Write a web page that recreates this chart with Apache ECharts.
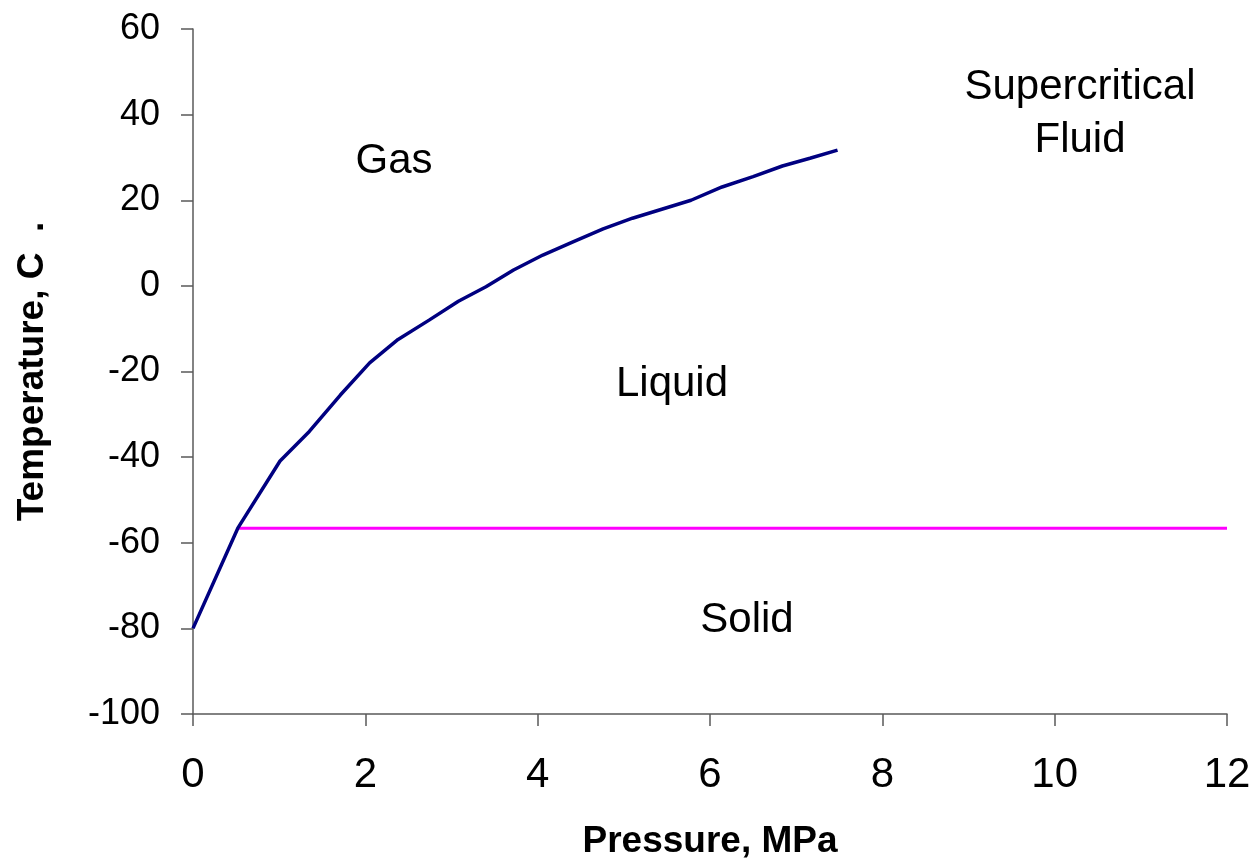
<!DOCTYPE html>
<html>
<head>
<meta charset="utf-8">
<script src="https://cdn.jsdelivr.net/npm/echarts@6/dist/echarts.min.js"></script>
<style>
  html, body { margin: 0; padding: 0; background: #fff; }
  #chart { width: 1251px; height: 859px; }
</style>
</head>
<body>
<div id="chart"></div>
<script>
// vapour pressure curve (gas / liquid boundary)
const pressure = [0, 0.52, 1.01, 1.35, 1.71, 2.05, 2.38, 2.74, 3.08, 3.4, 3.72, 4.06, 4.41, 4.76, 5.1, 5.44, 5.78, 6.14, 6.5, 6.84, 7.16, 7.48];
const temperature = [-80, -56.6, -40.9, -34, -25.5, -18, -12.5, -8, -3.6, -0.2, 3.7, 7.2, 10.3, 13.3, 15.8, 17.9, 20, 23.1, 25.5, 28, 29.8, 31.7];
// solid / liquid boundary
const meltP = [0.52, 12];
const meltT = [-56.6, -56.6];

const font = "Liberation Sans, Arial, sans-serif";
const axisColor = "#5a5a5a";

const chart = echarts.init(document.getElementById("chart"));

function note(text, x, y) {
  return {
    type: "text", x: x, y: y,
    style: { text: text, fontFamily: font, fontSize: 42, fill: "#000", align: "center", verticalAlign: "middle" }
  };
}

const option = {
  animation: false,
  backgroundColor: "#fff",
  grid: { left: 193, right: 24, top: 29, bottom: 145, containLabel: false, outerBoundsMode: "none" },
  xAxis: {
    type: "value",
    min: 0,
    max: 12,
    interval: 2,
    name: "Pressure, MPa",
    nameLocation: "middle",
    nameGap: 109,
    nameTextStyle: { fontFamily: font, fontSize: 37, fontWeight: "bold", color: "#000" },
    axisLine: { onZero: false, lineStyle: { color: axisColor, width: 1.5 } },
    axisTick: { show: true, length: 12, lineStyle: { color: axisColor, width: 1.5 } },
    axisLabel: { fontFamily: font, fontSize: 42, color: "#000", margin: 40 },
    splitLine: { show: false }
  },
  yAxis: {
    type: "value",
    min: -100,
    max: 60,
    interval: 20,
    name: "Temperature, C  .",
    nameLocation: "middle",
    nameGap: 142,
    nameTextStyle: { fontFamily: font, fontSize: 37, fontWeight: "bold", color: "#000" },
    axisLine: { show: true, lineStyle: { color: axisColor, width: 1.5 } },
    axisTick: { show: true, length: 12, lineStyle: { color: axisColor, width: 1.5 } },
    axisLabel: { fontFamily: font, fontSize: 36, color: "#000", margin: 33 },
    splitLine: { show: false }
  },
  series: [
    {
      name: "Vapour pressure",
      type: "line",
      data: pressure.map((p, i) => [p, temperature[i]]),
      showSymbol: false,
      lineStyle: { color: "#000080", width: 3.5 },
      z: 3
    },
    {
      name: "Melting",
      type: "line",
      data: meltP.map((p, i) => [p, meltT[i]]),
      showSymbol: false,
      lineStyle: { color: "#ff00ff", width: 3 },
      z: 2
    }
  ],
  graphic: [
    note("Gas", 394, 161),
    note("Liquid", 672, 384),
    note("Solid", 747, 620),
    note("Supercritical", 1080, 87),
    note("Fluid", 1080, 140)
  ]
};

chart.setOption(option);
</script>
</body>
</html>
